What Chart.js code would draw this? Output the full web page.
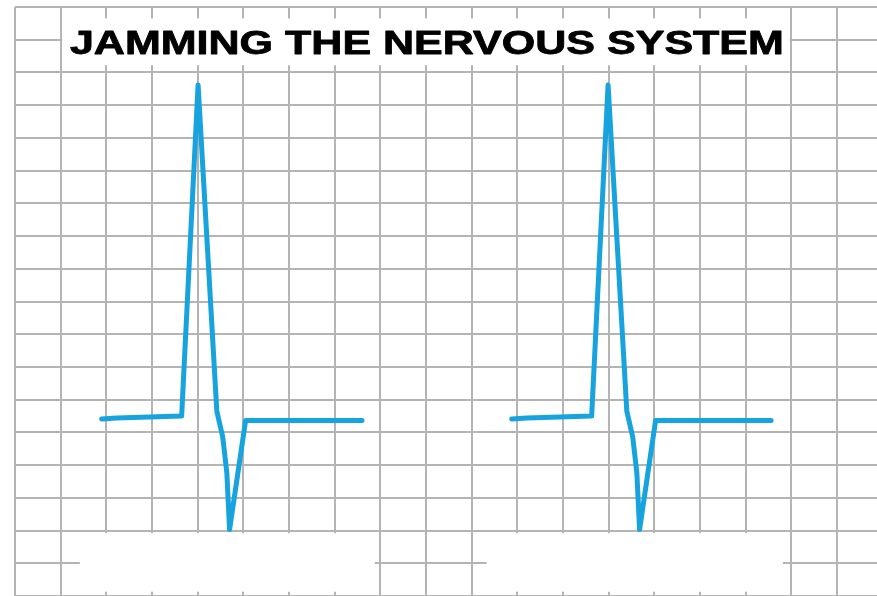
<!DOCTYPE html>
<html>
<head>
<meta charset="utf-8">
<script src="https://cdn.jsdelivr.net/npm/chart.js@4/dist/chart.umd.min.js"></script>
<style>
  html, body { margin: 0; padding: 0; background: #ffffff; }
  #wrap { width: 877px; height: 596px; }
</style>
</head>
<body>
<div id="wrap"><canvas id="c" width="877" height="596"></canvas></div>
<script>
// ---- Data (grid units) ----
const titleText = "JAMMING THE NERVOUS SYSTEM";
const beat1X = [1.90, 2.23, 3.65, 4.01, 4.42, 4.55, 4.64, 4.70, 5.05, 7.60];
const beat1Y = [5.41, 5.44, 5.50, 15.62, 5.65, 4.86, 3.76, 2.03, 5.36, 5.36];
const beat2X = [10.88, 11.21, 12.63, 12.99, 13.40, 13.53, 13.62, 13.68, 14.03, 16.56];
const beat2Y = [5.41, 5.44, 5.50, 15.62, 5.65, 4.86, 3.76, 2.03, 5.36, 5.36];

// ---- Layout helpers (not data) ----
const xRange = [0, 18.88];
const yRange = [0, 18];
const titleBox = { x0: 1, x1: 17, y0: 16.22, y1: 17.65 };
const bottomMasks = [
  { x0: 1.42, x1: 7.88, y0: 0.13, y1: 1.92 },
  { x0: 10.33, x1: 16.82, y0: 0.13, y1: 1.92 }
];

const lineColor = '#17a3de';
const gridColor = '#b4b4b4';

function toPts(xs, ys) { return xs.map((x, i) => ({ x: x, y: ys[i] })); }

const decor = {
  id: 'decor',
  beforeDatasetsDraw(chart) {
    const ctx = chart.ctx, xs = chart.scales.x, ys = chart.scales.y;
    ctx.save();
    ctx.fillStyle = '#ffffff';
    bottomMasks.forEach(m => {
      const l = xs.getPixelForValue(m.x0), r = xs.getPixelForValue(m.x1);
      const t = ys.getPixelForValue(m.y1), b = ys.getPixelForValue(m.y0);
      ctx.fillRect(l, t, r - l, b - t);
    });
    // title box
    const l = xs.getPixelForValue(titleBox.x0) + 1.5;
    const r = xs.getPixelForValue(titleBox.x1) - 1.5;
    const t = ys.getPixelForValue(titleBox.y1);
    const b = ys.getPixelForValue(titleBox.y0);
    ctx.fillRect(l, t, r - l, b - t);
    // title text (horizontally stretched like the reference)
    const cx = (l + r) / 2;
    const fontPx = 33;
    ctx.font = 'bold ' + fontPx + 'px "Liberation Sans", Arial, sans-serif';
    const w = ctx.measureText(titleText).width;
    const targetW = 714;
    const sx = targetW / w;
    ctx.translate(cx + 1, (t + b) / 2 + 12);
    ctx.scale(sx, 1);
    ctx.fillStyle = '#000000';
    ctx.strokeStyle = '#000000';
    ctx.lineWidth = 0.8;
    ctx.lineJoin = 'round';
    ctx.textAlign = 'center';
    ctx.textBaseline = 'alphabetic';
    ctx.fillText(titleText, 0, 0);
    ctx.strokeText(titleText, 0, 0);
    ctx.restore();
  }
};

new Chart(document.getElementById('c'), {
  type: 'line',
  data: {
    datasets: [
      { label: 'beat 1', data: toPts(beat1X, beat1Y) },
      { label: 'beat 2', data: toPts(beat2X, beat2Y) }
    ]
  },
  options: {
    responsive: false,
    animation: false,
    devicePixelRatio: 1,
    layout: { padding: { left: 15, top: 7, right: 0, bottom: 0 } },
    elements: {
      line: { borderColor: lineColor, borderWidth: 5, tension: 0, borderJoinStyle: 'round', borderCapStyle: 'round', fill: false },
      point: { radius: 0, hoverRadius: 0 }
    },
    plugins: { legend: { display: false }, tooltip: { enabled: false }, title: { display: false } },
    scales: {
      x: {
        type: 'linear', min: xRange[0], max: xRange[1],
        ticks: { display: false, stepSize: 1, includeBounds: false },
        grid: { color: gridColor, lineWidth: 2, drawTicks: false },
        border: { display: false }
      },
      y: {
        type: 'linear', min: yRange[0], max: yRange[1],
        ticks: { display: false, stepSize: 1, includeBounds: false },
        grid: { color: gridColor, lineWidth: 2, drawTicks: false },
        border: { display: false }
      }
    }
  },
  plugins: [decor]
});
</script>
</body>
</html>
